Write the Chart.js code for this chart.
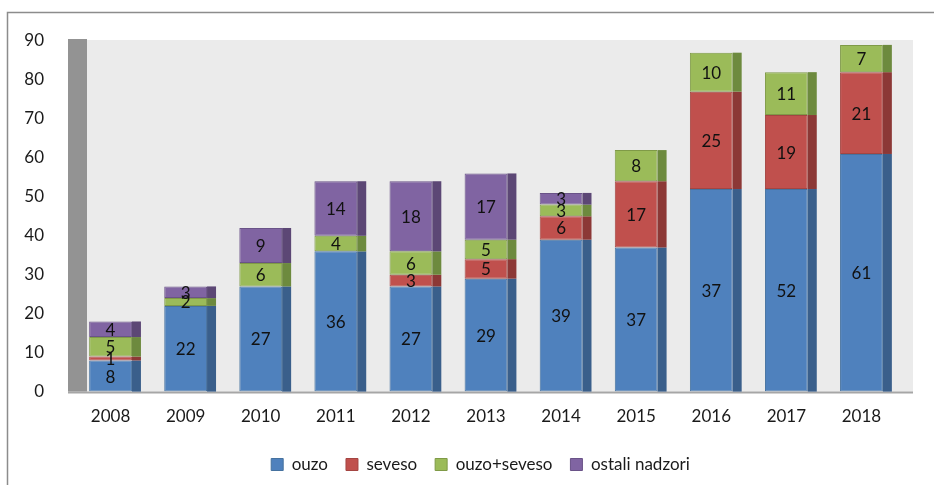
<!DOCTYPE html>
<html>
<head>
<meta charset="utf-8">
<script src="https://cdn.jsdelivr.net/npm/chart.js@4.4.0/dist/chart.umd.min.js"></script>
<style>
  html, body { margin: 0; padding: 0; background: #fff; }
  #wrap { width: 934px; height: 485px; position: relative; }
</style>
</head>
<body>
<div id="wrap"><canvas id="c"></canvas></div>
<script>
const years = ['2008', '2009', '2010', '2011', '2012', '2013', '2014', '2015', '2016', '2017', '2018'];
const ouzo = [8, 22, 27, 36, 27, 29, 39, 37, 52, 52, 61];
// the original's label on the 2016 ouzo segment reads 37
const ouzoShown = [8, 22, 27, 36, 27, 29, 39, 37, 37, 52, 61];
const seveso = [1, 0, 0, 0, 3, 5, 6, 17, 25, 19, 21];
const ouzoSeveso = [5, 2, 6, 4, 6, 5, 3, 8, 10, 11, 7];
const ostali = [4, 3, 9, 14, 18, 17, 3, 0, 0, 0, 0];

const FONT = 'Lato, "Liberation Sans", sans-serif';
const sideColors = ['#3A5F8B', '#8C3836', '#6D8A3E', '#5C4775'];

const frame = {
  id: 'frame',
  afterLayout(chart) {
    // legend is centred under the whole frame, not the plot
    const lg = chart.legend;
    lg.left += 62;
    lg.top += 4;
    lg.bottom += 4;
  },
  beforeDraw(chart) {
    const { ctx, chartArea: a } = chart;
    ctx.save();
    ctx.fillStyle = '#EBEBEB';
    ctx.fillRect(a.left + 14, a.top - 1, a.right - a.left, a.bottom - a.top + 1);
    ctx.fillStyle = '#939393';
    ctx.fillRect(a.left - 5, a.top - 2, 19, a.bottom - a.top + 2);
    ctx.strokeStyle = '#A6A6A6';
    ctx.lineWidth = 2;
    ctx.beginPath();
    ctx.moveTo(a.left - 5, a.bottom + 1);
    ctx.lineTo(a.right + 14, a.bottom + 1);
    ctx.stroke();
    // outer border
    ctx.strokeStyle = '#8C8C8C';
    ctx.lineWidth = 1.5;
    ctx.beginPath();
    ctx.moveTo(7.5, 485);
    ctx.lineTo(7.5, 12.5);
    ctx.lineTo(934, 12.5);
    ctx.stroke();
    ctx.restore();
  }
};

const sides = {
  id: 'sides',
  afterDatasetsDraw(chart) {
    const { ctx } = chart;
    ctx.save();
    chart.data.datasets.forEach((ds, i) => {
      const meta = chart.getDatasetMeta(i);
      meta.data.forEach((bar, j) => {
        if (!ds.data[j]) return;
        const right = bar.x + bar.width / 2;
        ctx.fillStyle = sideColors[i];
        ctx.fillRect(right, bar.y, 9, bar.base - bar.y);
        const shown = ds.shown ? ds.shown[j] : ds.data[j];
        ctx.fillStyle = '#111';
        ctx.font = '17px ' + FONT;
        ctx.textAlign = 'center';
        ctx.textBaseline = 'middle';
        ctx.fillText(shown, bar.x, (bar.y + bar.base) / 2 + 1);
      });
    });
    ctx.restore();
  }
};

const mk = (label, data, bg, border, extra) => Object.assign({
  label, data, backgroundColor: bg, borderColor: border, borderWidth: 1,
  borderSkipped: false, barPercentage: 0.57, categoryPercentage: 1
}, extra || {});

new Chart(document.getElementById('c'), {
  type: 'bar',
  data: {
    labels: years,
    datasets: [
      mk('ouzo', ouzo, '#4F81BD', '#46729F', { shown: ouzoShown }),
      mk('seveso', seveso, '#C0504D', '#A44542'),
      mk('ouzo+seveso', ouzoSeveso, '#9BBB59', '#7F9A47'),
      mk('ostali nadzori', ostali, '#8064A2', '#6A5388')
    ]
  },
  options: {
    responsive: true,
    maintainAspectRatio: false,
    animation: false,
    layout: { padding: { left: 0, right: 35, top: 41, bottom: 6 } },
    plugins: {
      legend: {
        position: 'bottom',
        labels: {
          boxWidth: 12, boxHeight: 12, padding: 18,
          color: '#1a1a1a', font: { family: FONT, size: 17 }
        }
      },
      tooltip: { enabled: false }
    },
    scales: {
      x: {
        stacked: true,
        grid: { display: false },
        border: { display: false },
        ticks: { color: '#1a1a1a', padding: 7, font: { family: FONT, size: 17 } }
      },
      y: {
        stacked: true,
        min: 0, max: 90,
        afterFit(scale) { scale.width = 73; },
        grid: { display: false },
        border: { display: false },
        ticks: { stepSize: 10, color: '#1a1a1a', padding: 21, font: { family: FONT, size: 17 } }
      }
    }
  },
  plugins: [frame, sides]
});
</script>
</body>
</html>
